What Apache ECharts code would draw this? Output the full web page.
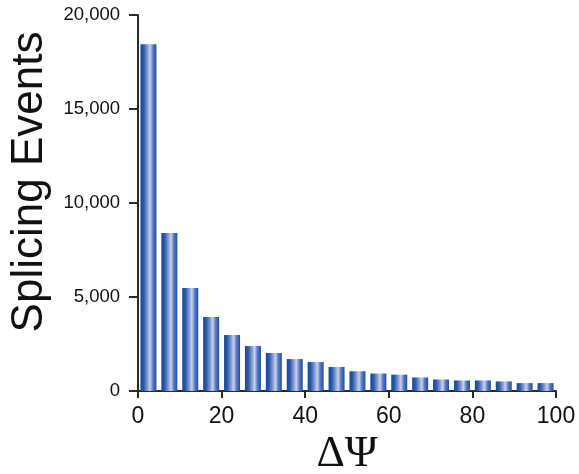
<!DOCTYPE html>
<html>
<head>
<meta charset="utf-8">
<script src="https://cdn.jsdelivr.net/npm/echarts@6/dist/echarts.min.js"></script>
<style>html,body{margin:0;padding:0;background:#fff}#c{width:579px;height:474px}</style>
</head>
<body>
<div id="c"></div>
<script>
const binCenters = [2.5, 7.5, 12.5, 17.5, 22.5, 27.5, 32.5, 37.5, 42.5, 47.5, 52.5, 57.5, 62.5, 67.5, 72.5, 77.5, 82.5, 87.5, 92.5, 97.5];
const events = [18450, 8400, 5480, 3940, 2980, 2390, 2020, 1700, 1540, 1280, 1050, 930, 870, 720, 610, 560, 560, 510, 420, 420];
const xTicks = [0, 20, 40, 60, 80, 100];
const yTicks = [0, 5000, 10000, 15000, 20000];

const chart = echarts.init(document.getElementById('c'), null, {renderer: 'canvas'});
const barColor = new echarts.graphic.LinearGradient(0, 0, 1, 0, [
  {offset: 0, color: '#15479a'},
  {offset: 0.2, color: '#2a5aa9'},
  {offset: 0.42, color: '#7f96cf'},
  {offset: 0.6, color: '#c9d1ed'},
  {offset: 0.78, color: '#5b7bc0'},
  {offset: 1, color: '#1a4fa3'}
]);
chart.setOption({
  animation: false,
  grid: {left: 138, right: 23, top: 15, bottom: 83, containLabel: false, outerBoundsMode: 'none'},
  xAxis: {
    type: 'value', min: xTicks[0], max: xTicks[xTicks.length - 1], interval: 20,
    name: 'ΔΨ', nameLocation: 'middle', nameGap: 41,
    nameTextStyle: {fontFamily: 'Liberation Serif', fontSize: 44, color: '#111'},
    axisLine: {show: true, lineStyle: {color: '#2a2a2a', width: 2}},
    axisTick: {show: true, length: 7, lineStyle: {color: '#2a2a2a', width: 2}},
    axisLabel: {fontFamily: 'Liberation Sans', fontSize: 23, color: '#111', margin: 14},
    splitLine: {show: false}
  },
  yAxis: {
    type: 'value', min: yTicks[0], max: yTicks[yTicks.length - 1], interval: 5000,
    axisLine: {show: true, lineStyle: {color: '#2a2a2a', width: 2}},
    axisTick: {show: true, length: 9, lineStyle: {color: '#2a2a2a', width: 2}},
    axisLabel: {fontFamily: 'Liberation Sans', fontSize: 18.5, color: '#111', margin: 18,
      formatter: v => v.toLocaleString('en-US')},
    splitLine: {show: false}
  },
  graphic: [{
    type: 'text', x: 30, y: 182, rotation: Math.PI / 2,
    style: {text: 'Splicing Events', fontFamily: 'Liberation Sans', fontSize: 44, fill: '#111',
      textAlign: 'center', textVerticalAlign: 'middle'}
  }],
  series: [{
    type: 'bar', barWidth: 16,
    itemStyle: {color: barColor},
    data: binCenters.map((c, i) => [c, events[i]])
  }]
});
</script>
</body>
</html>
